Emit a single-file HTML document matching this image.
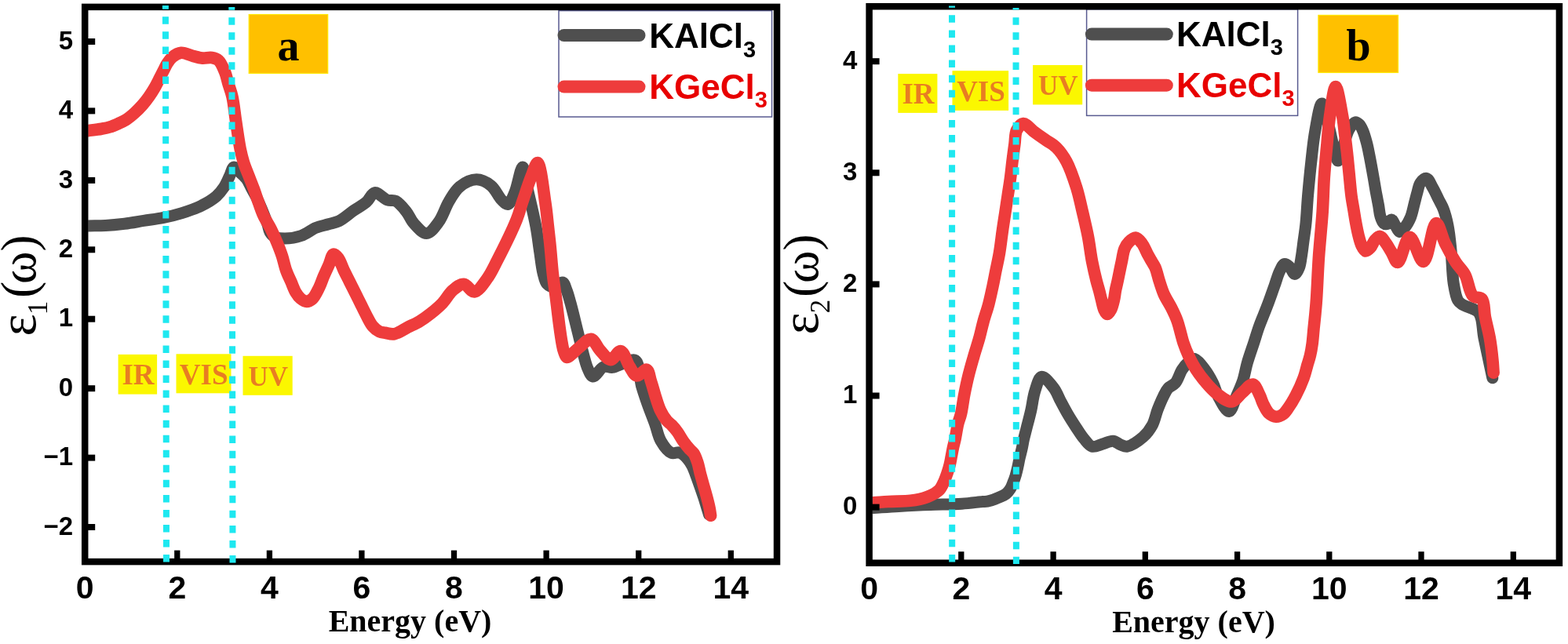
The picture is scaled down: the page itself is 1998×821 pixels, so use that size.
<!DOCTYPE html><html><head><meta charset="utf-8"><title>Dielectric function</title><style>
html,body{margin:0;padding:0;background:#fff;width:1998px;height:821px;overflow:hidden}
svg{display:block}
.tk{font-family:"Liberation Sans",Arial,sans-serif;font-weight:bold;font-size:41px;fill:#000}
.tky{font-family:"Liberation Sans",Arial,sans-serif;font-weight:bold;font-size:33px;fill:#000}
.lg{font-family:"Liberation Sans",Arial,sans-serif;font-weight:bold;font-size:44px}
.sub{font-size:29px}
.tag{font-family:"Liberation Serif","Times New Roman",serif;font-weight:bold;font-size:56px;fill:#000}
.rl{font-family:"Liberation Serif","Times New Roman",serif;font-weight:bold;fill:#e87d22}
.ax{font-family:"Liberation Serif","Times New Roman",serif;font-weight:bold;font-size:40px;fill:#000}
.yl{font-family:"Liberation Serif","Times New Roman",serif;font-size:63px;fill:#000}
.ye{font-size:67px}
.ys{font-size:35px}
</style></head><body><svg width="1998" height="821" viewBox="0 0 1998 821">
<defs>
<clipPath id="clipa"><rect x="112.2" y="12.9" width="873.8" height="699.2"/></clipPath>
<clipPath id="clipb"><rect x="1111.6" y="12.2" width="871.3" height="701.5"/></clipPath>
</defs>
<rect width="1998" height="821" fill="#fff"/>
<g clip-path="url(#clipa)" fill="none" stroke-linecap="round" stroke-linejoin="round" stroke-width="15.6">
<path d="M112.4 288.0 C119.7 287.8 126.9 287.9 134.4 287.5 C142.3 287.1 150.6 286.3 158.7 285.3 C166.8 284.3 175.0 282.7 183.1 281.4 C191.2 280.1 199.4 279.3 207.5 277.7 C215.6 276.1 223.8 274.1 231.8 271.6 C240.0 269.0 248.7 266.1 256.2 262.4 C263.3 258.9 270.6 254.6 275.7 250.2 C279.8 246.6 282.6 242.9 285.4 238.7 C288.3 234.3 290.5 228.6 292.7 224.1 C294.6 220.2 295.7 213.5 298.0 213.0 C300.0 212.6 302.6 216.7 305.0 219.0 C307.9 221.6 311.4 224.6 314.0 228.0 C316.6 231.5 318.4 236.1 320.5 240.0 C322.5 243.7 324.7 247.3 326.5 251.0 C328.3 254.6 329.9 258.2 331.5 262.0 C333.2 265.9 334.9 270.0 336.5 274.0 C338.1 278.0 339.7 282.2 341.0 286.0 C342.2 289.5 342.4 293.3 344.0 296.0 C345.5 298.5 347.3 300.7 350.0 302.0 C353.3 303.7 358.2 304.0 363.0 304.0 C369.1 304.0 377.2 302.8 383.8 300.5 C390.4 298.2 396.4 292.9 402.5 290.4 C407.9 288.2 413.5 287.3 418.6 285.8 C423.3 284.4 427.4 284.1 432.0 281.8 C437.9 278.9 444.7 272.6 450.7 268.4 C456.2 264.6 462.2 261.7 466.8 257.7 C471.0 254.0 473.2 246.3 477.5 245.6 C482.1 244.9 488.6 253.3 493.6 255.0 C497.4 256.3 500.8 254.6 504.3 256.3 C508.9 258.5 513.8 264.9 517.7 269.7 C521.5 274.4 523.4 280.5 527.5 285.0 C531.9 289.8 538.3 297.7 543.5 297.5 C548.8 297.3 554.4 289.1 558.9 283.1 C564.3 275.9 567.5 264.2 572.3 256.3 C576.5 249.4 580.0 242.7 585.7 238.1 C591.5 233.4 600.3 228.8 607.2 228.8 C613.6 228.8 620.6 232.6 625.9 236.8 C631.4 241.2 635.1 250.9 639.3 255.0 C642.1 257.7 644.9 261.0 647.3 260.4 C650.6 259.6 653.3 251.2 656.0 245.0 C659.7 236.4 663.3 212.9 666.0 213.0 C668.5 213.1 669.7 229.7 672.0 240.0 C675.1 253.9 680.2 274.0 682.9 288.7 C685.1 300.7 686.2 311.2 687.8 321.6 C689.2 330.9 690.1 340.7 692.0 348.0 C693.4 353.5 694.2 359.0 697.0 362.0 C699.3 364.4 702.9 366.1 706.0 366.0 C709.5 365.9 714.3 359.2 717.0 360.0 C719.5 360.8 720.5 366.1 722.0 370.0 C724.0 374.9 725.4 380.7 727.3 387.4 C729.8 396.6 732.8 409.3 735.5 420.3 C738.3 431.3 741.2 444.1 743.8 453.2 C745.6 459.8 746.8 465.3 749.0 470.0 C750.8 473.9 752.7 479.6 755.5 480.0 C759.1 480.5 764.7 469.1 769.4 467.5 C773.0 466.3 776.5 468.9 780.4 468.4 C785.0 467.8 790.1 464.5 795.0 463.0 C799.8 461.5 806.0 457.1 809.6 459.3 C815.1 462.6 814.9 482.8 817.8 493.0 C820.3 501.6 822.8 508.6 825.6 516.5 C828.5 524.6 832.0 533.0 834.8 540.9 C837.4 548.2 838.4 555.8 842.0 562.0 C845.4 567.9 850.8 575.4 855.5 577.4 C858.9 578.9 862.7 575.9 866.0 577.0 C869.6 578.2 873.3 582.0 876.0 585.0 C878.5 587.7 880.3 590.8 882.0 594.0 C883.8 597.4 885.0 601.1 886.5 605.0 C888.2 609.4 889.8 614.3 891.5 619.0 C893.2 623.8 894.9 628.7 896.5 633.5 C898.1 638.3 899.7 643.9 901.0 648.0 C902.0 651.1 902.7 653.3 903.5 656.0" stroke="#4f4f4f" stroke-width="15"/>
<path d="M112.0 166.7 C117.8 165.9 124.4 165.1 129.5 164.2 C133.5 163.5 136.6 163.0 140.0 161.9 C143.5 160.8 146.9 159.3 150.3 157.8 C153.8 156.2 157.3 154.7 160.7 152.6 C164.3 150.3 167.6 147.5 171.0 144.5 C174.6 141.3 178.2 137.6 181.4 134.0 C184.5 130.5 187.4 126.7 190.0 123.0 C192.5 119.4 194.8 115.8 197.0 112.0 C199.2 108.2 201.2 104.1 203.1 100.3 C204.9 96.8 206.6 93.3 208.3 90.0 C209.9 86.9 211.1 83.9 213.0 81.0 C215.0 78.0 217.1 74.8 220.0 72.5 C223.0 70.1 226.9 67.7 230.9 67.3 C235.6 66.9 241.7 70.4 246.5 71.6 C250.6 72.6 254.2 73.8 258.1 74.1 C262.0 74.4 266.2 72.9 269.8 73.5 C273.0 74.0 276.0 74.8 278.5 77.0 C281.9 80.0 284.4 86.6 286.5 91.6 C288.6 96.6 289.4 101.8 291.0 107.0 C292.6 112.4 294.6 116.9 296.0 123.3 C298.0 132.1 299.0 144.2 300.7 155.0 C302.4 166.4 304.3 180.4 306.2 190.0 C307.6 196.7 308.7 201.4 310.5 207.1 C312.3 212.9 314.8 218.6 317.0 224.3 C319.2 229.9 321.4 235.4 323.5 241.0 C325.6 246.7 327.4 252.6 329.5 258.3 C331.6 264.0 333.4 269.7 336.0 275.3 C338.7 281.1 342.6 286.6 345.5 292.4 C348.3 298.0 350.8 303.8 353.1 309.5 C355.4 315.1 357.6 320.7 359.5 326.5 C361.4 332.4 362.6 339.0 364.6 344.6 C366.4 349.8 368.8 354.4 370.9 359.2 C372.9 363.9 374.7 369.2 377.0 373.0 C378.8 376.0 380.6 378.6 383.0 380.5 C385.2 382.3 388.2 384.4 390.7 384.4 C393.2 384.4 395.7 383.0 398.0 381.0 C401.3 378.1 404.2 371.4 406.7 366.5 C409.1 361.7 410.5 356.7 412.6 351.9 C414.7 347.0 417.1 342.1 419.2 337.3 C421.2 332.8 422.6 324.6 425.0 324.0 C426.8 323.6 429.2 326.6 431.0 329.0 C433.7 332.6 435.8 339.5 438.2 344.6 C440.6 349.6 443.1 354.3 445.5 359.2 C447.9 364.1 450.4 368.9 452.8 373.8 C455.2 378.7 457.7 383.6 460.1 388.5 C462.5 393.4 464.9 398.4 467.4 403.1 C469.8 407.6 472.0 412.6 475.0 416.0 C477.5 418.9 480.6 421.4 483.5 422.8 C485.9 423.9 488.1 423.9 490.8 424.3 C494.2 424.9 498.3 426.4 502.5 425.7 C507.9 424.8 514.4 419.8 520.0 417.0 C525.1 414.5 529.8 412.5 534.6 409.7 C539.6 406.7 544.4 403.2 549.2 399.4 C554.2 395.4 559.3 391.1 563.9 386.3 C568.6 381.3 572.1 374.1 577.0 370.0 C581.3 366.4 586.5 361.9 591.0 362.2 C595.6 362.5 600.0 372.4 604.5 372.0 C609.8 371.5 615.8 361.9 620.5 355.5 C625.7 348.5 628.9 341.0 633.9 331.4 C641.0 317.6 652.7 294.0 658.3 280.0 C662.0 270.7 663.2 264.7 666.1 256.3 C669.4 246.6 673.4 233.9 677.0 225.0 C679.7 218.3 682.6 207.2 685.0 207.5 C688.9 208.0 692.5 243.2 694.8 258.0 C696.6 269.5 697.3 278.9 698.4 288.7 C699.4 297.6 700.3 305.1 701.2 314.4 C702.3 325.4 703.2 339.0 704.5 350.5 C705.7 361.0 707.2 370.1 708.5 380.5 C709.9 391.7 711.4 405.2 712.8 415.5 C713.9 423.7 715.0 431.5 716.1 437.5 C716.9 441.7 717.3 444.9 718.5 448.0 C719.5 450.8 720.8 455.0 722.5 455.5 C724.0 455.9 726.0 453.5 728.0 452.0 C730.9 449.8 734.2 446.0 738.0 443.0 C742.4 439.5 748.5 431.7 753.0 432.3 C757.5 432.9 760.7 442.5 765.0 447.0 C769.1 451.3 773.6 458.5 778.0 458.6 C782.3 458.7 787.2 446.9 791.0 447.6 C795.4 448.4 798.5 461.9 802.3 467.5 C805.3 472.0 807.8 478.4 811.4 479.0 C815.0 479.6 821.0 470.2 824.0 471.2 C827.1 472.3 827.7 480.7 829.5 486.0 C831.5 491.9 833.1 498.6 835.1 504.8 C837.1 511.0 838.9 517.7 841.5 523.1 C843.8 527.9 846.6 532.6 849.4 535.9 C851.5 538.5 853.8 539.7 856.0 542.0 C858.4 544.5 860.8 547.3 863.1 550.5 C865.8 554.2 868.3 559.2 871.0 563.0 C873.5 566.5 876.2 569.8 878.6 572.5 C880.5 574.6 882.4 575.7 884.0 578.0 C886.0 581.0 887.4 585.2 888.8 589.3 C890.3 593.8 891.1 599.0 892.4 603.9 C893.7 608.8 895.1 613.6 896.4 618.5 C897.8 623.4 899.2 628.2 900.5 633.1 C901.8 638.0 903.2 643.4 904.1 647.8 C904.8 651.3 905.1 654.1 905.6 657.3" stroke="#ee3c3c"/>
</g>
<rect x="712" y="13.6" width="271.5" height="135.4" fill="#fff" stroke="#585a90" stroke-width="1.5"/>
<line x1="718.5" y1="45" x2="814.5" y2="45" stroke="#4f4f4f" stroke-width="16" stroke-linecap="round"/>
<line x1="718.5" y1="110.6" x2="814.5" y2="110.6" stroke="#ee3c3c" stroke-width="16" stroke-linecap="round"/>
<text x="827.3" y="61" class="lg" fill="#000">KAlCl<tspan class="sub" dy="11.5">3</tspan></text>
<text x="827.3" y="125.5" class="lg" fill="#e80000">KGeCl<tspan class="sub" dy="11.5">3</tspan></text>
<rect x="317.2" y="18.5" width="100.5" height="75" fill="#ffc000" stroke="#ffe800" stroke-width="1.2"/>
<text x="367.5" y="77" class="tag" text-anchor="middle">a</text>
<rect x="150.6" y="451.9" width="49.5" height="50.7" fill="#fbf700"/>
<text x="176" y="490" class="rl" style="font-size:37px" text-anchor="middle">IR</text>
<rect x="224.5" y="451.3" width="70" height="50" fill="#fbf700"/>
<text x="259.7" y="490" class="rl" style="font-size:37px" text-anchor="middle">VIS</text>
<rect x="309.5" y="453.8" width="63.2" height="50" fill="#fbf700"/>
<text x="341.8" y="491.9" class="rl" style="font-size:35px" text-anchor="middle">UV</text>
<line x1="225.8" y1="716.1" x2="225.8" y2="701.6" stroke="#000" stroke-width="7.3"/>
<line x1="343.4" y1="716.1" x2="343.4" y2="701.6" stroke="#000" stroke-width="7.3"/>
<line x1="460.9" y1="716.1" x2="460.9" y2="701.6" stroke="#000" stroke-width="7.3"/>
<line x1="578.5" y1="716.1" x2="578.5" y2="701.6" stroke="#000" stroke-width="7.3"/>
<line x1="696.1" y1="716.1" x2="696.1" y2="701.6" stroke="#000" stroke-width="7.3"/>
<line x1="813.7" y1="716.1" x2="813.7" y2="701.6" stroke="#000" stroke-width="7.3"/>
<line x1="931.3" y1="716.1" x2="931.3" y2="701.6" stroke="#000" stroke-width="7.3"/>
<line x1="108.2" y1="53.0" x2="121.2" y2="53.0" stroke="#000" stroke-width="8"/>
<line x1="108.2" y1="141.4" x2="121.2" y2="141.4" stroke="#000" stroke-width="8"/>
<line x1="108.2" y1="229.9" x2="121.2" y2="229.9" stroke="#000" stroke-width="8"/>
<line x1="108.2" y1="318.3" x2="121.2" y2="318.3" stroke="#000" stroke-width="8"/>
<line x1="108.2" y1="406.7" x2="121.2" y2="406.7" stroke="#000" stroke-width="8"/>
<line x1="108.2" y1="495.2" x2="121.2" y2="495.2" stroke="#000" stroke-width="8"/>
<line x1="108.2" y1="583.6" x2="121.2" y2="583.6" stroke="#000" stroke-width="8"/>
<line x1="108.2" y1="672.0" x2="121.2" y2="672.0" stroke="#000" stroke-width="8"/>
<rect x="108.2" y="8.9" width="881.8" height="707.2" fill="none" stroke="#000" stroke-width="8.5"/>
<text x="108.2" y="763.0" class="tk" text-anchor="middle">0</text>
<text x="225.8" y="763.0" class="tk" text-anchor="middle">2</text>
<text x="343.4" y="763.0" class="tk" text-anchor="middle">4</text>
<text x="460.9" y="763.0" class="tk" text-anchor="middle">6</text>
<text x="578.5" y="763.0" class="tk" text-anchor="middle">8</text>
<text x="696.1" y="763.0" class="tk" text-anchor="middle">10</text>
<text x="813.7" y="763.0" class="tk" text-anchor="middle">12</text>
<text x="931.3" y="763.0" class="tk" text-anchor="middle">14</text>
<text x="93.0" y="62.7" class="tky" text-anchor="end">5</text>
<text x="93.0" y="151.1" class="tky" text-anchor="end">4</text>
<text x="93.0" y="239.6" class="tky" text-anchor="end">3</text>
<text x="93.0" y="328.0" class="tky" text-anchor="end">2</text>
<text x="93.0" y="416.4" class="tky" text-anchor="end">1</text>
<text x="93.0" y="504.9" class="tky" text-anchor="end">0</text>
<text x="93.0" y="593.3" class="tky" text-anchor="end">−1</text>
<text x="93.0" y="681.7" class="tky" text-anchor="end">−2</text>
<line x1="210.9" y1="7.0" x2="212.0" y2="716.5" stroke="#1ee8f0" stroke-width="8" stroke-dasharray="9.5 9.55" stroke-dashoffset="4.75"/>
<line x1="295.3" y1="9.0" x2="296.5" y2="717.5" stroke="#1ee8f0" stroke-width="8" stroke-dasharray="9.5 9.55" stroke-dashoffset="5.85"/>
<g clip-path="url(#clipb)" fill="none" stroke-linecap="round" stroke-linejoin="round" stroke-width="15.6">
<path d="M1113.0 647.5 C1123.7 646.8 1133.9 646.0 1145.2 645.4 C1157.9 644.7 1172.0 644.0 1185.4 643.5 C1198.8 643.0 1213.5 643.0 1225.5 642.2 C1235.3 641.5 1246.6 640.0 1252.3 639.5 C1255.0 639.3 1255.9 639.6 1258.3 639.1 C1262.4 638.3 1269.8 635.6 1274.1 633.7 C1277.2 632.3 1279.7 631.3 1282.0 629.5 C1284.2 627.7 1286.0 625.4 1287.5 623.0 C1289.0 620.6 1290.0 617.6 1291.0 615.0 C1292.0 612.6 1292.8 610.6 1293.6 608.0 C1294.7 604.7 1295.7 600.4 1296.6 596.5 C1297.5 592.5 1298.2 588.4 1299.1 584.4 C1300.0 580.3 1301.2 576.3 1302.1 572.2 C1303.0 568.1 1303.6 564.1 1304.5 560.0 C1305.4 555.8 1306.5 552.2 1307.7 547.3 C1309.4 540.5 1312.0 531.1 1313.8 523.0 C1315.6 514.9 1316.3 506.1 1318.7 498.7 C1320.9 492.0 1323.3 481.2 1327.2 480.4 C1331.3 479.6 1338.9 489.6 1343.0 495.0 C1346.8 500.0 1348.6 506.0 1351.6 511.5 C1354.6 517.1 1357.6 522.9 1360.9 528.5 C1364.2 534.2 1368.0 540.0 1371.5 545.3 C1374.7 550.1 1377.5 554.9 1381.0 559.0 C1384.3 562.8 1387.5 568.1 1391.6 569.2 C1395.6 570.3 1400.6 567.2 1405.0 566.0 C1409.4 564.9 1414.1 562.0 1418.1 562.3 C1421.7 562.6 1424.8 565.8 1428.0 567.0 C1430.8 568.0 1432.8 569.6 1436.0 569.2 C1441.4 568.5 1450.9 562.1 1456.5 557.2 C1461.5 552.8 1465.3 547.6 1468.4 541.9 C1471.6 535.9 1472.8 528.3 1475.2 522.0 C1477.5 516.1 1480.0 510.1 1482.4 505.3 C1484.4 501.4 1485.8 497.9 1488.4 495.0 C1490.9 492.2 1495.0 491.4 1497.7 488.2 C1501.2 484.1 1503.2 475.9 1506.3 471.2 C1508.7 467.5 1511.2 464.4 1514.0 462.0 C1516.4 460.0 1518.8 457.2 1521.6 457.5 C1525.7 458.0 1531.3 466.1 1535.3 471.2 C1539.3 476.3 1542.6 482.4 1545.5 488.2 C1548.3 493.8 1549.2 499.6 1552.3 505.3 C1555.8 511.7 1562.0 524.8 1566.0 524.5 C1569.9 524.2 1573.0 510.7 1576.0 504.0 C1578.8 497.8 1581.3 492.5 1583.5 486.0 C1585.9 478.7 1587.2 470.0 1589.5 462.0 C1591.9 453.8 1595.0 445.2 1597.6 437.3 C1600.0 429.9 1602.2 422.3 1604.5 416.0 C1606.4 410.8 1608.1 406.8 1610.0 402.0 C1612.1 396.8 1614.2 391.6 1616.4 385.7 C1618.9 379.0 1621.7 370.7 1624.2 363.8 C1626.4 357.6 1628.1 350.9 1630.5 346.0 C1632.4 342.2 1634.2 337.1 1636.6 336.5 C1638.5 336.0 1641.0 338.2 1643.0 340.0 C1645.5 342.2 1647.7 349.5 1649.8 349.5 C1651.8 349.5 1654.1 344.3 1655.5 341.0 C1657.0 337.4 1657.3 333.3 1658.1 328.5 C1659.2 322.2 1660.1 313.9 1661.1 306.6 C1662.1 299.3 1663.2 292.8 1664.0 284.6 C1665.0 274.4 1665.5 262.2 1666.5 250.0 C1667.7 236.4 1669.1 221.0 1670.7 207.0 C1672.2 193.7 1673.3 180.7 1675.6 168.0 C1677.9 155.7 1681.3 132.0 1684.4 131.9 C1687.1 131.8 1690.4 150.4 1693.0 160.0 C1695.6 169.8 1697.7 181.8 1700.0 190.0 C1701.7 195.9 1703.2 205.0 1705.0 205.0 C1707.1 205.0 1709.7 191.7 1712.0 185.0 C1714.3 178.3 1716.0 170.2 1719.0 165.0 C1721.3 161.1 1724.5 156.3 1727.0 155.8 C1728.7 155.5 1730.5 157.1 1732.0 158.5 C1733.9 160.3 1735.3 163.4 1736.7 166.7 C1738.6 171.0 1740.2 177.2 1741.6 182.5 C1743.0 187.7 1743.8 192.3 1745.0 198.3 C1746.6 206.3 1748.7 218.1 1750.2 226.5 C1751.4 233.3 1752.2 238.8 1753.3 244.8 C1754.4 250.6 1755.6 256.6 1756.6 262.0 C1757.5 266.9 1757.7 272.0 1759.0 276.0 C1760.0 279.3 1761.1 283.0 1763.0 284.5 C1764.4 285.6 1766.5 286.0 1768.0 285.5 C1769.9 284.9 1771.4 279.9 1773.0 280.0 C1774.8 280.1 1776.3 285.0 1778.0 287.5 C1779.8 290.1 1781.4 295.2 1783.5 295.5 C1785.4 295.8 1788.0 292.4 1790.0 290.0 C1792.7 286.8 1795.5 281.8 1797.5 277.0 C1799.7 271.7 1800.8 264.8 1802.3 259.2 C1803.6 254.2 1804.7 249.5 1806.0 245.0 C1807.2 240.8 1807.7 236.1 1809.9 233.1 C1811.8 230.4 1815.3 226.9 1817.7 227.3 C1820.6 227.8 1823.0 234.7 1825.5 239.0 C1828.3 243.7 1830.9 249.7 1833.3 254.5 C1835.4 258.7 1837.4 261.6 1839.1 266.2 C1841.4 272.2 1843.4 279.9 1845.0 287.7 C1846.8 296.6 1847.7 306.1 1848.8 316.9 C1850.2 330.1 1850.3 349.2 1852.2 361.2 C1853.6 369.7 1854.9 378.0 1857.5 382.6 C1859.0 385.3 1860.3 386.1 1862.9 388.0 C1867.5 391.3 1879.6 392.6 1884.3 398.7 C1889.8 405.9 1888.5 418.9 1891.0 430.9 C1894.2 445.9 1898.2 464.8 1901.8 481.8" stroke="#4f4f4f" stroke-width="15"/>
<path d="M1113.0 640.8 C1119.3 640.4 1124.9 639.9 1131.8 639.5 C1140.2 639.0 1152.6 639.1 1160.0 638.3 C1164.9 637.8 1168.2 637.2 1172.0 636.3 C1175.5 635.5 1178.7 634.6 1181.9 633.4 C1185.0 632.2 1188.3 630.7 1191.0 629.0 C1193.3 627.5 1195.4 626.2 1197.2 624.2 C1199.2 622.0 1200.5 619.1 1202.0 616.0 C1203.8 612.4 1205.4 607.8 1206.8 603.8 C1208.1 600.1 1209.2 596.6 1210.1 592.9 C1211.0 589.3 1211.6 585.6 1212.3 581.9 C1213.0 578.3 1213.6 574.6 1214.4 571.0 C1215.2 567.3 1216.1 564.2 1217.0 560.0 C1218.2 554.4 1219.3 546.2 1220.7 540.4 C1221.9 535.6 1223.4 532.5 1224.6 527.4 C1226.2 520.6 1227.2 511.1 1228.8 503.0 C1230.4 494.9 1232.1 486.8 1234.1 478.7 C1236.1 470.5 1238.5 462.4 1240.8 454.3 C1243.1 446.2 1246.0 437.8 1248.1 430.0 C1250.0 422.9 1251.3 416.5 1253.2 409.6 C1255.2 402.4 1257.9 395.0 1259.8 387.7 C1261.7 380.4 1263.2 373.1 1264.8 365.8 C1266.4 358.5 1267.7 351.1 1269.2 343.8 C1270.7 336.5 1272.3 329.7 1273.6 321.9 C1275.1 313.1 1276.2 302.3 1277.5 293.5 C1278.6 285.7 1279.7 278.9 1280.8 271.6 C1281.9 264.3 1283.0 256.9 1284.1 249.6 C1285.2 242.3 1286.4 235.0 1287.4 227.7 C1288.4 220.4 1289.1 213.1 1290.0 205.8 C1290.9 198.5 1291.9 190.8 1292.9 183.9 C1293.8 177.6 1293.2 170.6 1295.5 166.0 C1297.4 162.3 1300.7 157.7 1303.9 157.5 C1307.7 157.2 1312.4 164.0 1317.0 167.4 C1321.9 171.0 1327.4 174.9 1332.4 178.4 C1337.1 181.7 1341.8 183.9 1346.0 188.0 C1350.8 192.8 1355.1 198.8 1359.0 206.0 C1363.9 215.1 1368.2 228.2 1371.7 239.2 C1375.0 249.8 1377.1 260.4 1379.6 270.9 C1382.0 281.3 1384.5 291.6 1386.5 302.0 C1388.5 312.4 1389.7 323.7 1391.6 333.5 C1393.3 342.1 1395.3 350.8 1397.0 357.5 C1398.2 362.4 1399.4 365.9 1400.5 370.0 C1401.6 374.0 1402.4 377.9 1403.5 382.0 C1404.6 386.3 1405.4 391.7 1407.0 395.0 C1408.1 397.4 1409.6 400.5 1411.0 400.5 C1412.4 400.5 1414.2 397.4 1415.5 395.0 C1417.3 391.7 1418.5 386.3 1419.5 382.0 C1420.5 378.0 1420.7 374.0 1421.5 370.0 C1422.3 365.9 1423.3 362.3 1424.3 357.5 C1425.7 350.8 1427.7 340.7 1429.3 333.5 C1430.6 327.5 1431.1 321.5 1433.0 317.0 C1434.4 313.5 1436.2 310.8 1438.5 308.5 C1440.8 306.2 1444.3 302.8 1447.0 303.0 C1449.8 303.2 1452.6 307.0 1455.0 310.0 C1457.9 313.7 1460.1 319.8 1462.4 324.1 C1464.4 327.7 1466.3 331.0 1468.0 334.0 C1469.5 336.6 1470.8 338.1 1472.1 341.1 C1474.0 345.5 1475.4 352.5 1477.2 358.2 C1479.1 363.9 1480.7 369.6 1483.2 375.2 C1485.8 381.0 1489.7 386.5 1492.6 392.3 C1495.4 397.9 1498.1 403.5 1500.2 409.3 C1502.2 414.9 1503.6 421.4 1505.0 426.4 C1506.1 430.4 1506.7 433.2 1508.0 437.1 C1509.7 442.2 1512.2 448.5 1514.8 454.1 C1517.5 459.9 1520.6 465.6 1524.2 471.2 C1528.0 477.0 1532.5 483.0 1537.0 488.2 C1541.3 493.2 1545.4 498.0 1550.6 501.9 C1556.1 506.0 1563.9 512.6 1569.5 512.0 C1574.6 511.5 1578.5 504.2 1583.0 500.5 C1587.4 496.9 1592.7 489.4 1596.4 490.0 C1600.1 490.6 1602.9 499.4 1605.2 503.9 C1607.1 507.7 1607.8 511.1 1609.6 514.8 C1611.6 518.8 1613.9 524.2 1617.0 527.0 C1619.6 529.3 1623.0 531.2 1626.0 531.3 C1629.0 531.4 1632.5 529.8 1635.0 528.0 C1637.6 526.2 1639.2 523.4 1641.4 520.3 C1644.5 515.9 1648.2 509.9 1651.3 503.9 C1654.8 497.2 1658.6 488.8 1661.1 481.9 C1663.3 476.0 1664.5 470.2 1666.0 465.0 C1667.3 460.7 1668.5 457.2 1669.5 453.0 C1670.6 448.4 1671.4 443.7 1672.1 438.5 C1672.9 432.5 1673.4 425.5 1674.0 419.0 C1674.7 412.5 1675.4 406.0 1676.0 399.5 C1676.6 393.0 1677.1 388.1 1677.6 380.0 C1678.5 366.9 1679.2 346.2 1680.4 328.5 C1681.7 309.6 1684.0 288.1 1685.2 270.0 C1686.2 254.4 1686.4 240.6 1687.3 226.5 C1688.2 213.1 1689.4 200.5 1690.6 187.5 C1691.8 174.5 1692.6 161.4 1694.5 148.5 C1696.4 135.7 1699.2 110.5 1701.9 110.5 C1704.6 110.5 1708.7 137.6 1710.7 148.5 C1712.2 156.6 1712.6 162.6 1713.5 170.0 C1714.5 178.0 1715.6 186.7 1716.5 195.0 C1717.4 203.3 1718.1 211.3 1719.0 220.0 C1720.0 229.7 1720.9 241.8 1722.1 250.5 C1723.0 257.2 1724.1 262.4 1725.0 268.0 C1725.9 273.2 1726.5 277.9 1727.5 283.0 C1728.5 288.5 1729.7 294.7 1731.0 300.0 C1732.2 304.7 1733.2 309.4 1735.0 313.0 C1736.4 315.8 1738.1 319.6 1740.0 320.0 C1741.8 320.3 1744.2 317.9 1746.0 316.0 C1748.3 313.6 1749.7 308.5 1752.0 306.0 C1753.9 303.9 1756.3 301.2 1758.4 301.4 C1761.0 301.7 1763.6 306.8 1766.0 310.0 C1768.5 313.4 1770.6 317.5 1773.0 321.4 C1775.6 325.6 1778.1 334.7 1781.0 334.5 C1785.5 334.3 1790.7 302.5 1796.2 302.3 C1801.7 302.1 1808.6 334.0 1813.8 333.5 C1820.1 332.9 1824.7 284.8 1830.0 284.5 C1833.9 284.3 1837.2 301.9 1841.4 310.2 C1845.5 318.5 1850.3 327.2 1854.9 334.3 C1858.8 340.3 1863.5 344.1 1866.9 350.4 C1871.0 358.0 1871.9 372.4 1876.8 377.2 C1880.0 380.3 1885.8 378.2 1888.4 381.3 C1892.0 385.6 1890.8 396.1 1892.4 404.0 C1894.1 412.6 1896.7 421.9 1898.3 430.9 C1899.9 439.8 1901.0 449.7 1901.8 457.7 C1902.5 464.1 1902.7 469.3 1903.1 475.1" stroke="#ee3c3c"/>
</g>
<rect x="1384.6" y="11.8" width="269.0" height="135.6" fill="#fff" stroke="#585a90" stroke-width="1.5"/>
<line x1="1390.9" y1="43.6" x2="1486.8" y2="43.6" stroke="#4f4f4f" stroke-width="16" stroke-linecap="round"/>
<line x1="1390.9" y1="108.7" x2="1486.8" y2="108.7" stroke="#ee3c3c" stroke-width="16" stroke-linecap="round"/>
<text x="1499" y="58.5" class="lg" fill="#000">KAlCl<tspan class="sub" dy="11.5">3</tspan></text>
<text x="1499" y="123.7" class="lg" fill="#e80000">KGeCl<tspan class="sub" dy="11.5">3</tspan></text>
<rect x="1679.9" y="19.4" width="101.6" height="73.1" fill="#ffc000" stroke="#ffe800" stroke-width="1.2"/>
<text x="1731" y="77" class="tag" text-anchor="middle">b</text>
<rect x="1144.3" y="94.1" width="50.1" height="49.8" fill="#fbf700"/>
<text x="1170" y="132.2" class="rl" style="font-size:37px" text-anchor="middle">IR</text>
<rect x="1213.5" y="90.2" width="71.6" height="50.7" fill="#fbf700"/>
<text x="1250" y="129.2" class="rl" style="font-size:37px" text-anchor="middle">VIS</text>
<rect x="1316.1" y="83" width="63.1" height="50.4" fill="#fbf700"/>
<text x="1348.3" y="121.4" class="rl" style="font-size:35px" text-anchor="middle">UV</text>
<line x1="1224.8" y1="717.7" x2="1224.8" y2="703.2" stroke="#000" stroke-width="7.3"/>
<line x1="1342.1" y1="717.7" x2="1342.1" y2="703.2" stroke="#000" stroke-width="7.3"/>
<line x1="1459.3" y1="717.7" x2="1459.3" y2="703.2" stroke="#000" stroke-width="7.3"/>
<line x1="1576.6" y1="717.7" x2="1576.6" y2="703.2" stroke="#000" stroke-width="7.3"/>
<line x1="1693.8" y1="717.7" x2="1693.8" y2="703.2" stroke="#000" stroke-width="7.3"/>
<line x1="1811.0" y1="717.7" x2="1811.0" y2="703.2" stroke="#000" stroke-width="7.3"/>
<line x1="1928.3" y1="717.7" x2="1928.3" y2="703.2" stroke="#000" stroke-width="7.3"/>
<line x1="1107.6" y1="78.2" x2="1120.6" y2="78.2" stroke="#000" stroke-width="8"/>
<line x1="1107.6" y1="220.3" x2="1120.6" y2="220.3" stroke="#000" stroke-width="8"/>
<line x1="1107.6" y1="362.4" x2="1120.6" y2="362.4" stroke="#000" stroke-width="8"/>
<line x1="1107.6" y1="504.5" x2="1120.6" y2="504.5" stroke="#000" stroke-width="8"/>
<line x1="1107.6" y1="646.6" x2="1120.6" y2="646.6" stroke="#000" stroke-width="8"/>
<rect x="1107.6" y="8.2" width="879.3" height="709.5" fill="none" stroke="#000" stroke-width="8.5"/>
<text x="1107.6" y="764.0" class="tk" text-anchor="middle">0</text>
<text x="1224.8" y="764.0" class="tk" text-anchor="middle">2</text>
<text x="1342.1" y="764.0" class="tk" text-anchor="middle">4</text>
<text x="1459.3" y="764.0" class="tk" text-anchor="middle">6</text>
<text x="1576.6" y="764.0" class="tk" text-anchor="middle">8</text>
<text x="1693.8" y="764.0" class="tk" text-anchor="middle">10</text>
<text x="1811.0" y="764.0" class="tk" text-anchor="middle">12</text>
<text x="1928.3" y="764.0" class="tk" text-anchor="middle">14</text>
<text x="1092.3" y="87.9" class="tky" text-anchor="end">4</text>
<text x="1092.3" y="230.0" class="tky" text-anchor="end">3</text>
<text x="1092.3" y="372.1" class="tky" text-anchor="end">2</text>
<text x="1092.3" y="514.2" class="tky" text-anchor="end">1</text>
<text x="1092.3" y="656.3" class="tky" text-anchor="end">0</text>
<line x1="1213.0" y1="7.5" x2="1213.2" y2="716.5" stroke="#1ee8f0" stroke-width="8" stroke-dasharray="9.5 9.60" stroke-dashoffset="7.30"/>
<line x1="1294.5" y1="10.0" x2="1294.9" y2="719.0" stroke="#1ee8f0" stroke-width="8" stroke-dasharray="9.5 9.60" stroke-dashoffset="6.90"/>
<text x="522.5" y="805" class="ax" text-anchor="middle">Energy (eV)</text>
<text x="1521" y="806" class="ax" text-anchor="middle">Energy (eV)</text>
<text transform="translate(44.5,428.5) rotate(-90)" class="yl"><tspan class="ye">ε</tspan><tspan class="ys" dx="-1" dy="15">1</tspan><tspan dx="4" dy="-15">(</tspan><tspan dx="-3">ω</tspan><tspan dx="0">)</tspan></text>
<text transform="translate(1042,426.5) rotate(-90)" class="yl"><tspan class="ye">ε</tspan><tspan class="ys" dx="-1" dy="15">2</tspan><tspan dx="3" dy="-15">(</tspan><tspan dx="-3">ω</tspan><tspan dx="0">)</tspan></text>
</svg></body></html>
